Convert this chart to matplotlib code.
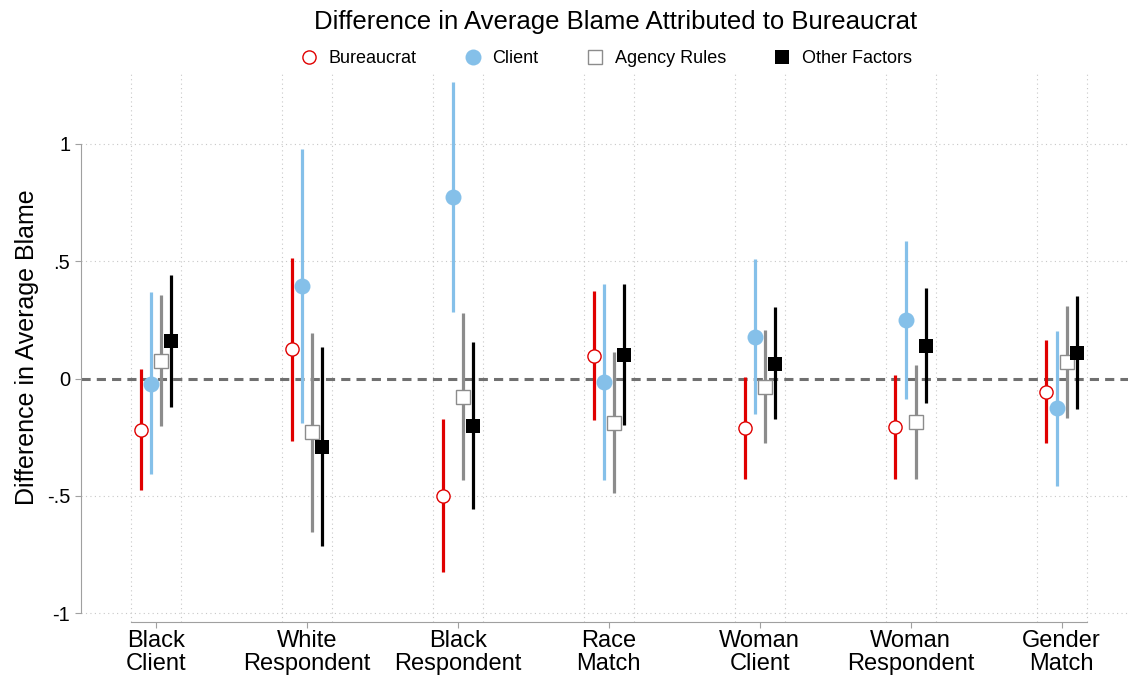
import matplotlib
matplotlib.use("Agg")
import matplotlib.pyplot as plt
import numpy as np

plt.rcParams['font.family'] = ['Liberation Sans', 'DejaVu Sans']

# Data
groups = ["Black\nClient", "White\nRespondent", "Black\nRespondent", "Race\nMatch",
          "Woman\nClient", "Woman\nRespondent", "Gender\nMatch"]
series = ["Bureaucrat", "Client", "Agency Rules", "Other Factors"]

bureaucrat_est = [-0.219, 0.124, -0.499, 0.097, -0.211, -0.208, -0.056]
bureaucrat_lo = [-0.475, -0.265, -0.823, -0.178, -0.430, -0.430, -0.276]
bureaucrat_hi = [0.039, 0.512, -0.173, 0.374, 0.008, 0.015, 0.164]

client_est = [-0.022, 0.396, 0.773, -0.015, 0.177, 0.249, -0.127]
client_lo = [-0.408, -0.191, 0.282, -0.431, -0.153, -0.087, -0.458]
client_hi = [0.367, 0.979, 1.263, 0.401, 0.508, 0.586, 0.204]

rules_est = [0.076, -0.229, -0.077, -0.188, -0.035, -0.185, 0.069]
rules_lo = [-0.204, -0.654, -0.432, -0.489, -0.273, -0.430, -0.170]
rules_hi = [0.357, 0.194, 0.278, 0.114, 0.205, 0.058, 0.310]

other_est = [0.160, -0.290, -0.201, 0.100, 0.062, 0.138, 0.109]
other_lo = [-0.120, -0.714, -0.556, -0.200, -0.174, -0.106, -0.130]
other_hi = [0.442, 0.133, 0.156, 0.403, 0.303, 0.384, 0.351]

# style per series
styles = [
    dict(color="#e00000", marker="o", mfc="white", ms=9.5, mew=1.0, lw=2.3, off=-0.1),
    dict(color="#85c0e9", marker="o", mfc="#85c0e9", ms=11.5, mew=0, lw=2.3, off=-0.033),
    dict(color="#8c8c8c", marker="s", mfc="white", ms=9.5, mew=1.0, lw=2.3, off=0.033),
    dict(color="#000000", marker="s", mfc="#000000", ms=10, mew=0, lw=2.3, off=0.1),
]
data = [(bureaucrat_est, bureaucrat_lo, bureaucrat_hi),
        (client_est, client_lo, client_hi),
        (rules_est, rules_lo, rules_hi),
        (other_est, other_lo, other_hi)]

fig = plt.figure(figsize=(11.28, 6.79), dpi=100)
ax = fig.add_axes([0.0715, 0.084, 0.9285, 0.81])

x = np.arange(1, len(groups) + 1)

# grid
for yv in [-1, -0.5, 0.5, 1]:
    ax.axhline(yv, color="#c8c8c8", lw=0.8, ls=(0, (1, 3)), zorder=0)
for xv in x:
    for d in (-0.166, 0.166):
        ax.axvline(xv + d, color="#c8c8c8", lw=0.8, ls=(0, (1, 3)), zorder=0)
ax.axhline(0, color="#707070", lw=2.2, ls=(0, (3, 2)), zorder=1)

handles = []
for name, st, (est, lo, hi) in zip(series, styles, data):
    xs = x + st["off"]
    ax.vlines(xs, lo, hi, color=st["color"], lw=st["lw"], zorder=2)
    h, = ax.plot(xs, est, ls="none", marker=st["marker"], ms=st["ms"],
                 mfc=st["mfc"], mec=st["color"], mew=st["mew"], zorder=3, label=name)
    handles.append(h)

ax.set_xlim(0.503, 7.44)
ax.set_ylim(-1.037, 1.306)

ax.set_yticks([-1, -0.5, 0, 0.5, 1])
ax.set_yticklabels(["-1", "-.5", "0", ".5", "1"], fontsize=14.5)
ax.set_xticks(x)
ax.set_xticklabels(groups, fontsize=17, linespacing=1.05)

for s in ["top", "right"]:
    ax.spines[s].set_visible(False)
ax.spines["left"].set_bounds(-1, 1)
ax.spines["bottom"].set_bounds(1 - 0.166, 7 + 0.166)
ax.spines["left"].set_color("#a0a0a0")
ax.spines["bottom"].set_color("#a0a0a0")
ax.tick_params(colors="#a0a0a0", labelcolor="black", length=4)
ax.tick_params(axis="x", pad=2)

ax.set_ylabel("Difference in Average Blame", fontsize=18, labelpad=6)

fig.suptitle("Difference in Average Blame Attributed to Bureaucrat", fontsize=18.5,
             x=0.546, y=0.985)
fig.legend(handles=handles, loc="upper center", bbox_to_anchor=(0.537, 0.95), ncol=4,
           frameon=False, fontsize=13, handletextpad=0.6, columnspacing=2.6,
           handlelength=1.0)

fig.savefig("out.png", dpi=100)
